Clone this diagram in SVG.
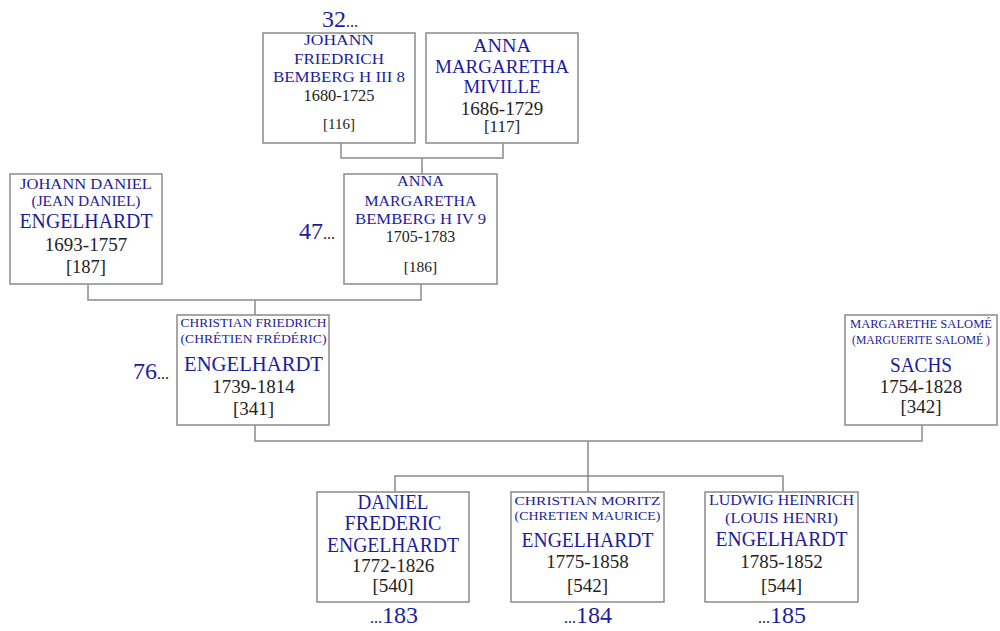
<svg xmlns="http://www.w3.org/2000/svg" width="1000" height="631" viewBox="0 0 1000 631">
<style>
.box{fill:#fff;stroke:#8a8a8a;stroke-width:1.5}
.con{fill:none;stroke:#8a8a8a;stroke-width:1.5}
text{font-family:"Liberation Serif","DejaVu Serif",serif;text-anchor:middle}
.n{fill:#1c1c9e}
.d{fill:#222}
.gen{font-size:24px}
.dots{fill:#222;font-size:16px}
</style>
<rect width="1000" height="631" fill="#fff"/>
<g id="connectors">
<path class="con" d="M341 143 V158 H503 V143 M422 158 V174"/>
<path class="con" d="M88 284 V300 H421 V284 M255 300 V315"/>
<path class="con" d="M255 425 V441 H922 V425 M588 441 V476"/>
<path class="con" d="M395 492 V476 H783 V492 M588 476 V492"/>
</g>
<g id="gen32">
<text x="340" y="27" class="gen"><tspan class="n">32</tspan><tspan class="dots">...</tspan></text>
</g>
<g id="node116">
<rect class="box" x="263" y="33" width="152" height="110"/>
<text class="n" x="339" y="45" font-size="15" textLength="70" lengthAdjust="spacingAndGlyphs">JOHANN</text>
<text class="n" x="339" y="64" font-size="15" textLength="90" lengthAdjust="spacingAndGlyphs">FRIEDRICH</text>
<text class="n" x="339" y="82" font-size="15" textLength="132" lengthAdjust="spacingAndGlyphs">BEMBERG H III 8</text>
<text class="d" x="339" y="101" font-size="16.4">1680-1725</text>
<text class="d" x="339" y="129" font-size="15">[116]</text>
</g>
<g id="node117">
<rect class="box" x="426" y="33" width="152" height="110"/>
<text class="n" x="502" y="52" font-size="19" textLength="58" lengthAdjust="spacingAndGlyphs">ANNA</text>
<text class="n" x="502" y="73" font-size="19" textLength="134" lengthAdjust="spacingAndGlyphs">MARGARETHA</text>
<text class="n" x="502" y="93" font-size="19" textLength="77" lengthAdjust="spacingAndGlyphs">MIVILLE</text>
<text class="d" x="502" y="115" font-size="19">1686-1729</text>
<text class="d" x="502" y="132" font-size="17">[117]</text>
</g>
<g id="node187">
<rect class="box" x="10" y="174" width="152" height="110"/>
<text class="n" x="86" y="189" font-size="15" textLength="132" lengthAdjust="spacingAndGlyphs">JOHANN DANIEL</text>
<text class="n" x="86" y="206" font-size="15" textLength="109" lengthAdjust="spacingAndGlyphs">(JEAN DANIEL)</text>
<text class="n" x="86" y="228" font-size="20" textLength="133" lengthAdjust="spacingAndGlyphs">ENGELHARDT</text>
<text class="d" x="86" y="251" font-size="19">1693-1757</text>
<text class="d" x="86" y="273" font-size="18.5">[187]</text>
</g>
<g id="gen47">
<text x="317" y="239" class="gen"><tspan class="n">47</tspan><tspan class="dots">...</tspan></text>
</g>
<g id="node186">
<rect class="box" x="344" y="174" width="153" height="110"/>
<text class="n" x="420.5" y="186" font-size="15" textLength="47" lengthAdjust="spacingAndGlyphs">ANNA</text>
<text class="n" x="420.5" y="206" font-size="15" textLength="112" lengthAdjust="spacingAndGlyphs">MARGARETHA</text>
<text class="n" x="420.5" y="224" font-size="15" textLength="131" lengthAdjust="spacingAndGlyphs">BEMBERG H IV 9</text>
<text class="d" x="420.5" y="242" font-size="16">1705-1783</text>
<text class="d" x="420.5" y="272" font-size="15.5">[186]</text>
</g>
<g id="gen76">
<text x="151" y="379" class="gen"><tspan class="n">76</tspan><tspan class="dots">...</tspan></text>
</g>
<g id="node341">
<rect class="box" x="177" y="315" width="152" height="110"/>
<text class="n" x="253.5" y="327" font-size="13" textLength="146" lengthAdjust="spacingAndGlyphs">CHRISTIAN FRIEDRICH</text>
<text class="n" x="253.5" y="343" font-size="13" textLength="146" lengthAdjust="spacingAndGlyphs">(CHRÉTIEN FRÉDÉRIC)</text>
<text class="n" x="253.5" y="371" font-size="20" textLength="139" lengthAdjust="spacingAndGlyphs">ENGELHARDT</text>
<text class="d" x="253.5" y="393" font-size="19">1739-1814</text>
<text class="d" x="253.5" y="415" font-size="19">[341]</text>
</g>
<g id="node342">
<rect class="box" x="845" y="315" width="152" height="110"/>
<text class="n" x="921" y="328" font-size="12.5" textLength="142" lengthAdjust="spacingAndGlyphs">MARGARETHE SALOMÉ</text>
<text class="n" x="921" y="344" font-size="12.5" textLength="138" lengthAdjust="spacingAndGlyphs">(MARGUERITE SALOMÉ )</text>
<text class="n" x="921" y="372" font-size="20" textLength="62" lengthAdjust="spacingAndGlyphs">SACHS</text>
<text class="d" x="921" y="393" font-size="19">1754-1828</text>
<text class="d" x="921" y="413" font-size="19">[342]</text>
</g>
<g id="node540">
<rect class="box" x="317" y="492" width="152" height="110"/>
<text class="n" x="393" y="509" font-size="20" textLength="71" lengthAdjust="spacingAndGlyphs">DANIEL</text>
<text class="n" x="393" y="530" font-size="20" textLength="97" lengthAdjust="spacingAndGlyphs">FREDERIC</text>
<text class="n" x="393" y="552" font-size="20" textLength="132" lengthAdjust="spacingAndGlyphs">ENGELHARDT</text>
<text class="d" x="393" y="572" font-size="19">1772-1826</text>
<text class="d" x="393" y="592" font-size="19">[540]</text>
<text x="394" y="623" class="gen"><tspan class="dots">...</tspan><tspan class="n">183</tspan></text>
</g>
<g id="node542">
<rect class="box" x="511" y="492" width="153" height="110"/>
<text class="n" x="587.5" y="505" font-size="13" textLength="146" lengthAdjust="spacingAndGlyphs">CHRISTIAN MORITZ</text>
<text class="n" x="587.5" y="520" font-size="13" textLength="146" lengthAdjust="spacingAndGlyphs">(CHRETIEN MAURICE)</text>
<text class="n" x="587.5" y="547" font-size="20" textLength="132" lengthAdjust="spacingAndGlyphs">ENGELHARDT</text>
<text class="d" x="587.5" y="568" font-size="19">1775-1858</text>
<text class="d" x="587.5" y="592" font-size="19">[542]</text>
<text x="588" y="623" class="gen"><tspan class="dots">...</tspan><tspan class="n">184</tspan></text>
</g>
<g id="node544">
<rect class="box" x="705" y="492" width="153" height="110"/>
<text class="n" x="781.5" y="505" font-size="14" textLength="145" lengthAdjust="spacingAndGlyphs">LUDWIG HEINRICH</text>
<text class="n" x="781.5" y="523" font-size="14" textLength="113" lengthAdjust="spacingAndGlyphs">(LOUIS HENRI)</text>
<text class="n" x="781.5" y="546" font-size="20" textLength="132" lengthAdjust="spacingAndGlyphs">ENGELHARDT</text>
<text class="d" x="781.5" y="568" font-size="19">1785-1852</text>
<text class="d" x="781.5" y="592" font-size="19">[544]</text>
<text x="782" y="623" class="gen"><tspan class="dots">...</tspan><tspan class="n">185</tspan></text>
</g>
</svg>
